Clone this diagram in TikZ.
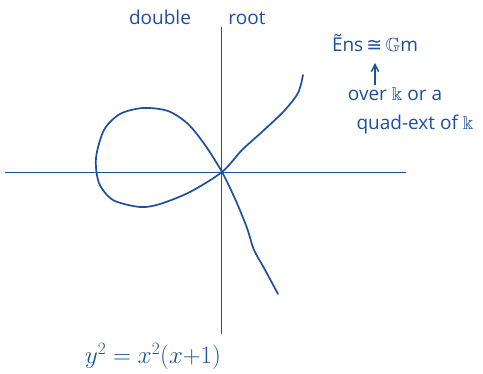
\documentclass[tikz,border=0pt]{standalone}
\usepackage{amssymb}
\usepackage{fontspec}
\setmainfont{Open Sans}
\newfontfamily\symfont{DejaVu Sans}
\usetikzlibrary{arrows.meta, positioning, calc}
\definecolor{cink}{HTML}{1C4F9C}
\tikzset{
  every picture/.style={line width=1.6pt},
  axis/.style={draw=cink, line width=1.8pt},
  curve/.style={draw=cink, line width=1.7pt, line join=round, line cap=round},
  hand/.style={text=cink, font=\fontsize{19}{22}\selectfont, inner sep=0pt, anchor=base},
  arrow/.style={-{Straight Barb[length=2.5mm, width=2.5mm]}, draw=cink, line width=1.4pt},
}

\begin{document}
\begin{tikzpicture}[x=1pt, y=-1pt]
  \useasboundingbox (0,0) rectangle (483,374);
  % ---- axes
  \coordinate (xl) at (5,172.5);
  \coordinate (xr) at (406,172.5);
  \coordinate (yt) at (221.5,27);
  \coordinate (yb) at (221.5,334);
  \draw[axis] (xl) -- (xr);
  \draw[axis] (yt) -- (yb);
  % ---- nodal cubic
  \draw[curve] plot[smooth, tension=0.5] coordinates {
    (303,75) (298,93) (284,111) (263,131) (242,150) (222,172)
    (190,192) (160,204) (140,207) (113,200) (99,183)
    (96,158) (104,130) (120,114) (143,108) (168,111) (188,124)
    (205,145) (222,172) (236,201) (247,228) (254,250)
    (264,268) (278,294)};
  % ---- labels
  \node[hand] (dbl) at (160,25) {double};
  \node[hand] (rt) at (247,25) {root};
  \node[hand] (iso) at (375,52) {Ẽns\,{\symfont ≅}\,$\mathbb{G}$m};
  \node[hand] (ov) at (395,101) {over $\Bbbk$ or a};
  \node[hand] (qe) at (415,130) {quad-ext of $\Bbbk$};
  \draw[arrow] (ov.north -| iso.south) ++(0,-2) coordinate (tip) -- ($(iso.south)+(0,10)$);
  \node[hand, font=\fontsize{23}{26}\selectfont] (eq) at (153,364) {$y^2 = x^2(x{+}1)$};
\end{tikzpicture}
\end{document}
